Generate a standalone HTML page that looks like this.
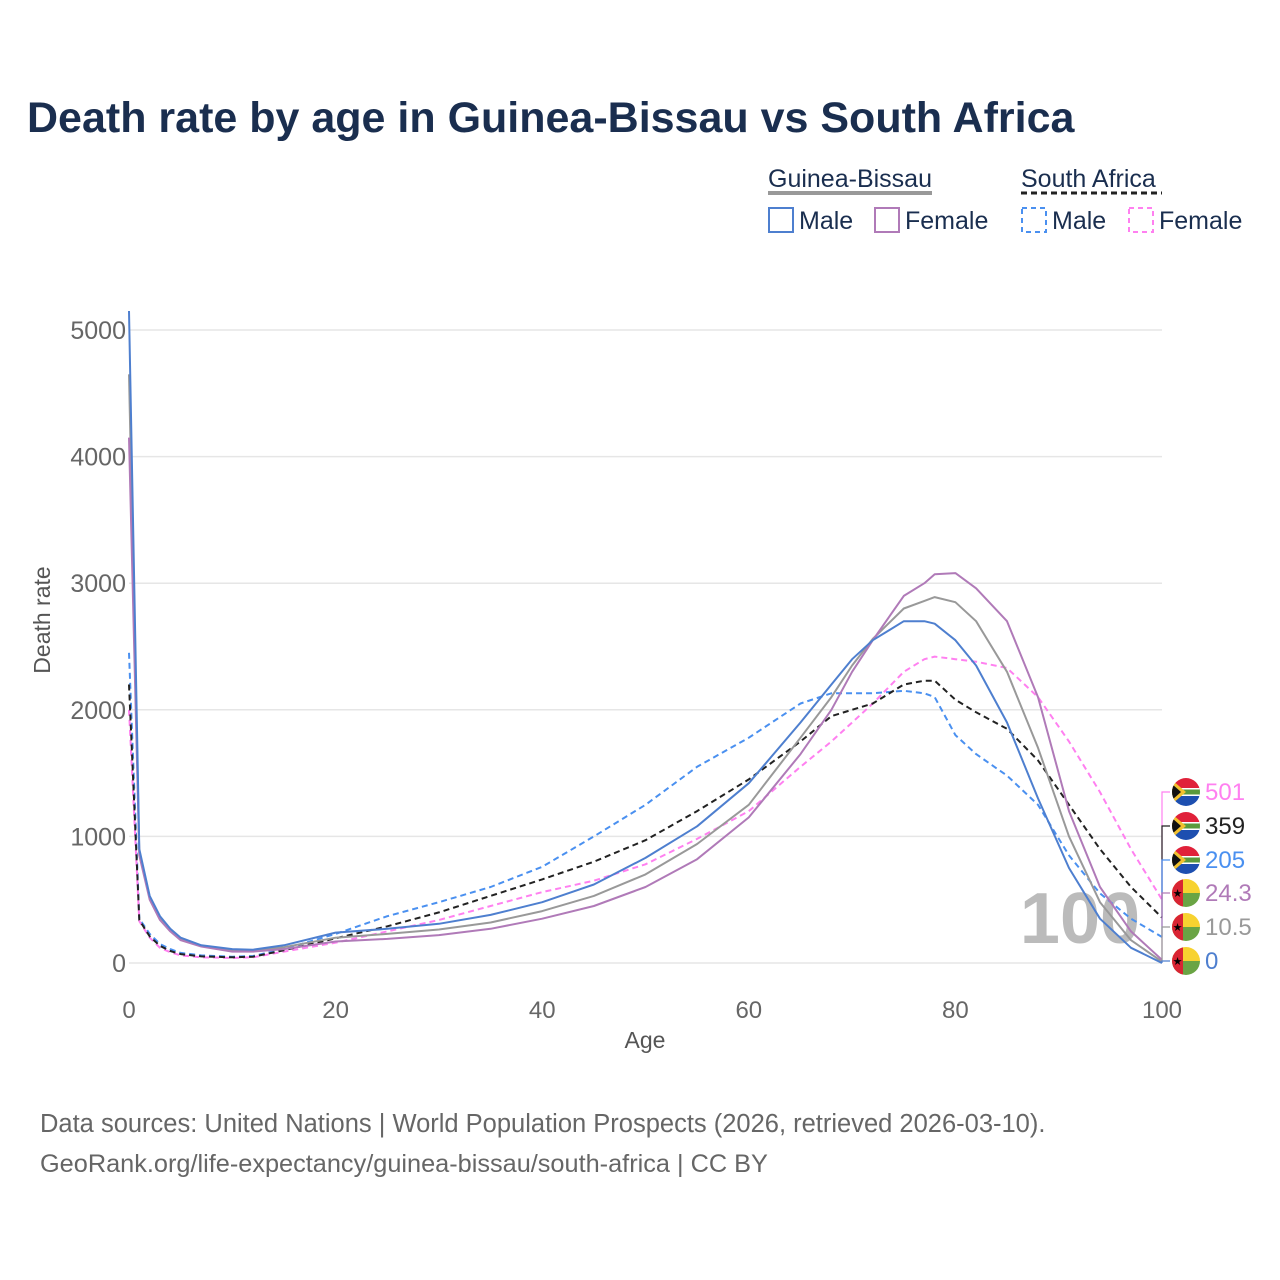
<!DOCTYPE html>
<html><head><meta charset="utf-8"><style>
body{margin:0;background:#fff;font-family:"Liberation Sans",sans-serif;}
#wrap{position:relative;width:1280px;height:1280px;overflow:hidden;}
</style></head><body>
<div id="wrap">
<svg id="chart" width="1280" height="1280">
<text x="27" y="132" font-size="43" font-weight="bold" fill="#1a2e4f">Death rate by age in Guinea-Bissau vs South Africa</text>
<g font-size="25" fill="#1a2e4f">
<text x="768" y="187">Guinea-Bissau</text>
<line x1="768" y1="193" x2="932" y2="193" stroke="#999" stroke-width="4"/>
<text x="1021" y="187">South Africa</text>
<line x1="1021" y1="193" x2="1162" y2="193" stroke="#222" stroke-width="3" stroke-dasharray="6,4"/>
<rect x="769" y="208" width="24" height="24" fill="none" stroke="#4e7fcf" stroke-width="2"/>
<text x="799" y="229">Male</text>
<rect x="875" y="208" width="24" height="24" fill="none" stroke="#b07ab8" stroke-width="2"/>
<text x="905" y="229">Female</text>
<rect x="1022" y="208" width="24" height="24" fill="none" stroke="#4a90f0" stroke-width="2" stroke-dasharray="5,4"/>
<text x="1052" y="229">Male</text>
<rect x="1129" y="208" width="24" height="24" fill="none" stroke="#ff80f0" stroke-width="2" stroke-dasharray="5,4"/>
<text x="1159" y="229">Female</text>
</g>
<g id="grid"></g>
<text x="1080" y="943" font-size="72" font-weight="bold" fill="#bbb" text-anchor="middle">100</text>
<g id="lines"></g>
<g id="endlabels"></g>
<text x="50" y="620" font-size="23" fill="#555" text-anchor="middle" transform="rotate(-90 50 620)">Death rate</text>
<text x="645" y="1048" font-size="23" fill="#555" text-anchor="middle">Age</text>
<text x="40" y="1132" font-size="25.5" fill="#666">Data sources: United Nations | World Population Prospects (2026, retrieved 2026-03-10).</text>
<text x="40" y="1172" font-size="25.3" fill="#666">GeoRank.org/life-expectancy/guinea-bissau/south-africa | CC BY</text>
</svg>
</div>
<script>
const ages = [0,1,2,3,4,5,7,10,12,15,20,25,30,35,40,45,50,55,60,65,68,70,72,75,77,78,80,82,85,88,91,94,97,100];
const gbMale   = [5150,900,530,370,270,200,140,110,105,140,240,270,310,380,480,620,830,1080,1420,1900,2200,2400,2550,2700,2700,2680,2550,2350,1900,1300,750,350,120,0];
const gbFemale = [4150,850,500,340,250,180,130,90,90,110,170,190,220,270,350,450,600,820,1150,1650,2000,2300,2550,2900,3000,3070,3080,2960,2700,2100,1200,600,250,24.3];
const gbTotal  = [4650,870,515,355,260,190,135,100,98,125,200,230,265,320,410,530,700,940,1250,1780,2100,2350,2560,2800,2860,2890,2850,2700,2300,1700,1000,480,180,10.5];
const saMale   = [2450,350,230,150,110,80,60,50,55,110,230,370,480,600,760,1000,1250,1550,1780,2050,2130,2130,2130,2150,2130,2100,1800,1650,1480,1250,850,550,350,205];
const saFemale = [2000,330,200,120,85,60,45,40,45,90,160,250,340,450,560,650,780,980,1200,1550,1750,1900,2050,2300,2400,2420,2400,2380,2330,2100,1750,1350,900,501];
const saTotal  = [2200,340,210,135,95,70,52,45,50,100,195,290,400,530,660,800,970,1200,1450,1750,1950,2000,2050,2200,2230,2230,2080,1980,1850,1600,1250,900,600,359];
const xTicks = [0,20,40,60,80,100];
const yTicks = [0,1000,2000,3000,4000,5000];
const NS="http://www.w3.org/2000/svg";
function xs(a){return 129+a*(1162-129)/100;}
function ys(v){return 963-v*0.1266;}
function mk(t,attrs,parent){const e=document.createElementNS(NS,t);for(const k in attrs)e.setAttribute(k,attrs[k]);parent.appendChild(e);return e;}
const grid=document.getElementById('grid');
yTicks.forEach(v=>{
  const l=mk('line',{x1:129,x2:1162,y1:ys(v),y2:ys(v),stroke:'#e6e6e6','stroke-width':1.5},grid);
  
  
  const t=mk('text',{x:126,y:ys(v)+9,'font-size':25,fill:'#666','text-anchor':'end'},grid);
  t.textContent=v;
  
  
});
xTicks.forEach(a=>{
  const t=mk('text',{x:xs(a),y:1018,'font-size':24,fill:'#666','text-anchor':'middle'},grid);
  t.textContent=a;
  
  
});
const lines=document.getElementById('lines');
const series=[
 {d:saMale,c:'#4a90f0',dash:'6,4',n:'line-sa-male'},
 {d:saFemale,c:'#ff80f0',dash:'6,4',n:'line-sa-female'},
 {d:saTotal,c:'#222',dash:'6,4',n:'line-sa-total'},
 {d:gbTotal,c:'#999',dash:'',n:'line-gb-total'},
 {d:gbFemale,c:'#b07ab8',dash:'',n:'line-gb-female'},
 {d:gbMale,c:'#4e7fcf',dash:'',n:'line-gb-male'}
];
series.forEach(s=>{
  const pts=ages.map((a,i)=>xs(a).toFixed(1)+','+ys(s.d[i]).toFixed(1)).join(' ');
  const p=mk('polyline',{points:pts,fill:'none',stroke:s.c,'stroke-width':2,'stroke-linejoin':'round'},lines);
  if(s.dash)p.setAttribute('stroke-dasharray',s.dash);
  
  
});
const el=document.getElementById('endlabels');
const labels=[
 {y:792,v:saFemale[saFemale.length-1],c:'#ff80f0',sa:true,n:'end-label-sa-female'},
 {y:826,v:saTotal[saTotal.length-1],c:'#222',sa:true,n:'end-label-sa-total'},
 {y:860,v:saMale[saMale.length-1],c:'#4a90f0',sa:true,n:'end-label-sa-male'},
 {y:893,v:gbFemale[gbFemale.length-1],c:'#b07ab8',sa:false,n:'end-label-gb-female'},
 {y:927,v:gbTotal[gbTotal.length-1],c:'#999',sa:false,n:'end-label-gb-total'},
 {y:961,v:gbMale[gbMale.length-1],c:'#4e7fcf',sa:false,n:'end-label-gb-male'}
];
const cx=1186;
labels.forEach((L,i)=>{
  const g=mk('g',{},el);
  
  
  mk('polyline',{points:`${xs(100)},${ys(L.v)} ${1162},${L.y} ${1170},${L.y}`,fill:'none',stroke:L.c,'stroke-width':1.2},g);
  const id='c'+i;
  const cp=mk('clipPath',{id:id},g);mk('circle',{cx:cx,cy:L.y,r:14},cp);
  const f=mk('g',{'clip-path':`url(#${id})`},g);
  if(L.sa){
    mk('rect',{x:cx-14,y:L.y-14,width:28,height:14,fill:'#e0213a'},f);
    mk('rect',{x:cx-14,y:L.y,width:28,height:14,fill:'#1d4fb0'},f);
    mk('rect',{x:cx-14,y:L.y-4,width:28,height:8,fill:'#fff'},f);
    mk('rect',{x:cx-14,y:L.y-2.5,width:28,height:5,fill:'#5a9a3c'},f);
    mk('polygon',{points:`${cx-14},${L.y-12} ${cx},${L.y} ${cx-14},${L.y+12}`,fill:'#f2c12e'},f);
    mk('polygon',{points:`${cx-14},${L.y-8} ${cx-5},${L.y} ${cx-14},${L.y+8}`,fill:'#111'},f);
  } else {
    mk('rect',{x:cx-14,y:L.y-14,width:28,height:14,fill:'#f7d230'},f);
    mk('rect',{x:cx-14,y:L.y,width:28,height:14,fill:'#6aa444'},f);
    mk('rect',{x:cx-14,y:L.y-14,width:11,height:28,fill:'#d92433'},f);
    const s=mk('text',{x:cx-8.5,y:L.y+4,'font-size':11,fill:'#000','text-anchor':'middle'},f);s.textContent='★';
  }
  const t=mk('text',{x:1205,y:L.y+8,'font-size':24,fill:L.c},g);
  t.textContent=L.v;
});
</script>
</body></html>
